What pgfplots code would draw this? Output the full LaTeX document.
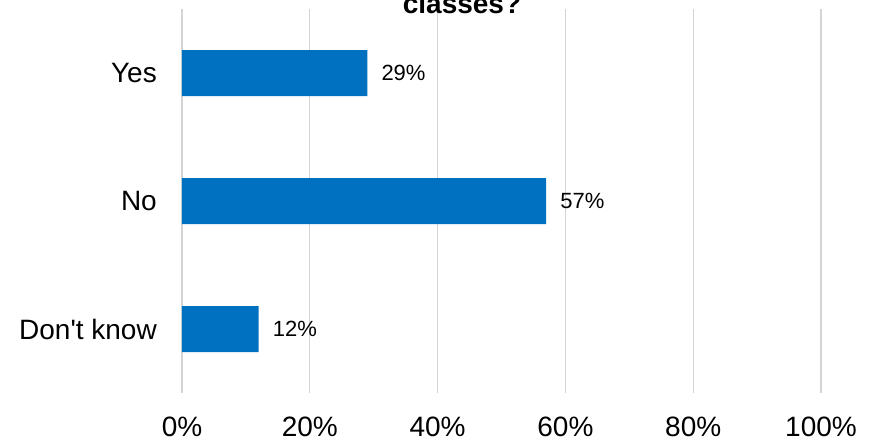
\documentclass[border=0pt]{standalone}
\usepackage{pgfplots}
\pgfplotsset{compat=1.18}
\usepackage{fontspec}
\setmainfont{Liberation Sans}[Ligatures=TeXOff]
\definecolor{barblue}{HTML}{0070C0}
\definecolor{gridgray}{HTML}{D4D4D4}
\begin{document}
\begin{tikzpicture}
\begin{axis}[
 scale only axis, width=639pt, height=384pt,
 xbar, bar width=46pt,
 xmin=0, xmax=100, ymin=-0.5, ymax=2.5, y dir=reverse,
 ytick={0,1,2}, yticklabels={Yes,No,Don't know},
 xtick={0,20,40,60,80,100}, xticklabels={0\%,20\%,40\%,60\%,80\%,100\%},
 xmajorgrids, grid style={gridgray, line width=1.3pt},
 axis line style={draw=none}, major tick length=0pt,
 yticklabel style={font=\fontsize{28}{32}\selectfont, anchor=east, inner sep=0pt, xshift=-25pt},
 xticklabel style={font=\fontsize{28}{32}\selectfont, anchor=north, inner sep=0pt, yshift=-24pt},
 nodes near coords={\pgfmathprintnumber[assume math mode=true]{\pgfplotspointmeta}\%},
 nodes near coords style={font=\fontsize{22}{26}\selectfont, anchor=west, inner sep=0pt, xshift=14pt, text=black},
 point meta=x,
 clip=false,
]
\addplot[fill=barblue, draw=none] coordinates {(29,0) (57,1) (12,2)};
\end{axis}
\node[anchor=base, inner sep=0pt, font=\bfseries\fontsize{28}{32}\selectfont] at ([shift={(280pt,-5pt)}]current axis.north west) {classes?};
\pgfresetboundingbox
\path[use as bounding box] ([shift={(-182pt,-49pt)}]current axis.south west) rectangle ([shift={(49pt,9pt)}]current axis.north east);
\end{tikzpicture}
\end{document}
